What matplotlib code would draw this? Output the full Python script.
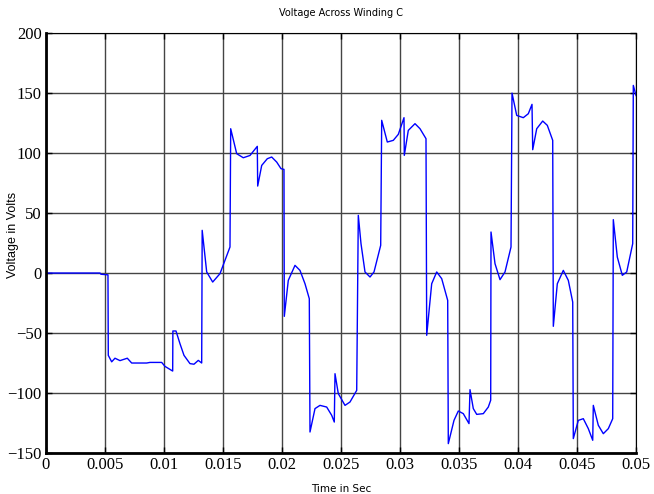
import matplotlib
matplotlib.use("Agg")
import matplotlib.pyplot as plt
from matplotlib import font_manager

# waveform (time in s, voltage in V)
time_s = [0.0, 0.004576, 0.004661, 0.005254, 0.00528, 0.005568, 0.005847, 0.006271,
          0.00689, 0.007263, 0.007822, 0.008534, 0.008814, 0.009805, 0.010085, 0.010737,
          0.010754, 0.011017, 0.011356, 0.011695, 0.012203, 0.012542, 0.012907, 0.013195,
          0.013237, 0.013619, 0.014127, 0.014746, 0.015593, 0.015653, 0.016161, 0.01672,
          0.017288, 0.017907, 0.017941, 0.01828, 0.018754, 0.019127, 0.019551, 0.019915,
          0.020169, 0.020195, 0.020534, 0.021102, 0.021525, 0.021949, 0.022314, 0.022373,
          0.022797, 0.02322, 0.023788, 0.024212, 0.024432, 0.024492, 0.024771, 0.025339,
          0.025763, 0.026331, 0.026466, 0.026695, 0.027034, 0.027458, 0.027797, 0.028364,
          0.028449, 0.028924, 0.029432, 0.029856, 0.030339, 0.030364, 0.030703, 0.031271,
          0.031695, 0.032119, 0.032203, 0.032263, 0.032686, 0.03311, 0.033534, 0.034042,
          0.034093, 0.034576, 0.034941, 0.035364, 0.035847, 0.035932, 0.036212, 0.0365,
          0.037059, 0.037483, 0.037686, 0.037712, 0.038051, 0.038475, 0.038898, 0.039407,
          0.039492, 0.03989, 0.040449, 0.040873, 0.041186, 0.041246, 0.041585, 0.042093,
          0.042483, 0.042941, 0.042992, 0.043331, 0.043839, 0.044263, 0.044636, 0.044686,
          0.04511, 0.045534, 0.045958, 0.046331, 0.046381, 0.046805, 0.047229, 0.047653,
          0.048025, 0.048076, 0.048415, 0.048839, 0.049212, 0.04972, 0.04977, 0.05]
volts = [0, 0, -1, -1.5, -68.6, -74, -71, -73,
         -71, -75, -75, -75, -74.5, -74.5, -77.8, -81.7,
         -48.3, -48.3, -58.9, -68.6, -75.5, -76, -72.8, -75,
         35.6, 0.9, -7.5, -0.5, 21.7, 120.3, 99.5, 96.1,
         98, 105.6, 72.5, 89.7, 95.3, 96.7, 92.5, 87,
         86.4, -36.1, -6.1, 6.4, 2.2, -8.9, -21.4, -132.5,
         -113, -110.3, -111.7, -118.6, -124.2, -83.9, -100.5, -110.3,
         -107.5, -97.8, 48.1, 24.5, 0.9, -3.3, 0.9, 23.1,
         127.3, 109.2, 110.6, 115.6, 129.5, 98.1, 118.9, 124.5,
         120.3, 113.3, 112, -51.9, -8.9, 0.9, -4.7, -22.8,
         -142.2, -122.8, -115, -117.2, -125.5, -97.2, -113, -117.8,
         -117.2, -111.7, -106, 34.2, 7.8, -5.5, 0.9, 21.7,
         150, 131.4, 129.5, 132.8, 140.6, 102.8, 120.3, 126.7,
         123.1, 110.6, -44.4, -8.9, 2.2, -6.1, -24.2, -138,
         -122.8, -121.4, -129.7, -139.4, -110.3, -126.9, -133.9, -129.7,
         -121.4, 44.5, 13.3, -1.9, 0.9, 24.5, 156.4, 148]

x_ticks = [0, 0.005, 0.01, 0.015, 0.02, 0.025, 0.03, 0.035, 0.04, 0.045, 0.05]
x_labels = ["0", "0.005", "0.01", "0.015", "0.02", "0.025", "0.03", "0.035", "0.04", "0.045", "0.05"]
y_ticks = [-150, -100, -50, 0, 50, 100, 150, 200]

# narrow sans for title / x label if present
names = {f.name for f in font_manager.fontManager.ttflist}
narrow = "Liberation Sans Narrow" if "Liberation Sans Narrow" in names else "DejaVu Sans"

fig = plt.figure(figsize=(6.54, 4.94), dpi=100)
ax = fig.add_axes([0.0703, 0.083, 0.9022, 0.850])

ax.plot(time_s, volts, color="#0000ff", linewidth=1.0)

ax.set_xlim(0, 0.05)
ax.set_ylim(-150, 200)
ax.set_xticks(x_ticks)
ax.set_xticklabels(x_labels)
ax.set_yticks(y_ticks)

for lab in ax.get_xticklabels() + ax.get_yticklabels():
    lab.set_fontfamily("Liberation Serif")
    lab.set_fontsize(12)

ax.tick_params(direction="in", length=4, top=True, right=True, width=1, pad=3)
ax.grid(True, color="#444444", linewidth=1.0)
ax.set_axisbelow(True)

ax.spines["left"].set_linewidth(2)
ax.spines["bottom"].set_linewidth(2)
ax.spines["top"].set_linewidth(0.8)
ax.spines["right"].set_linewidth(0.8)

ax.set_title("Voltage Across Winding C", fontsize=7, family=narrow, pad=12)
ax.set_xlabel("Time in Sec", fontsize=7.5, family=narrow)
ax.set_ylabel("Voltage in Volts", fontsize=9, family="Liberation Sans")
ax.xaxis.set_label_coords(0.5, -0.075)
ax.yaxis.set_label_coords(-0.046, 0.52)

fig.savefig("out.png", dpi=100)
